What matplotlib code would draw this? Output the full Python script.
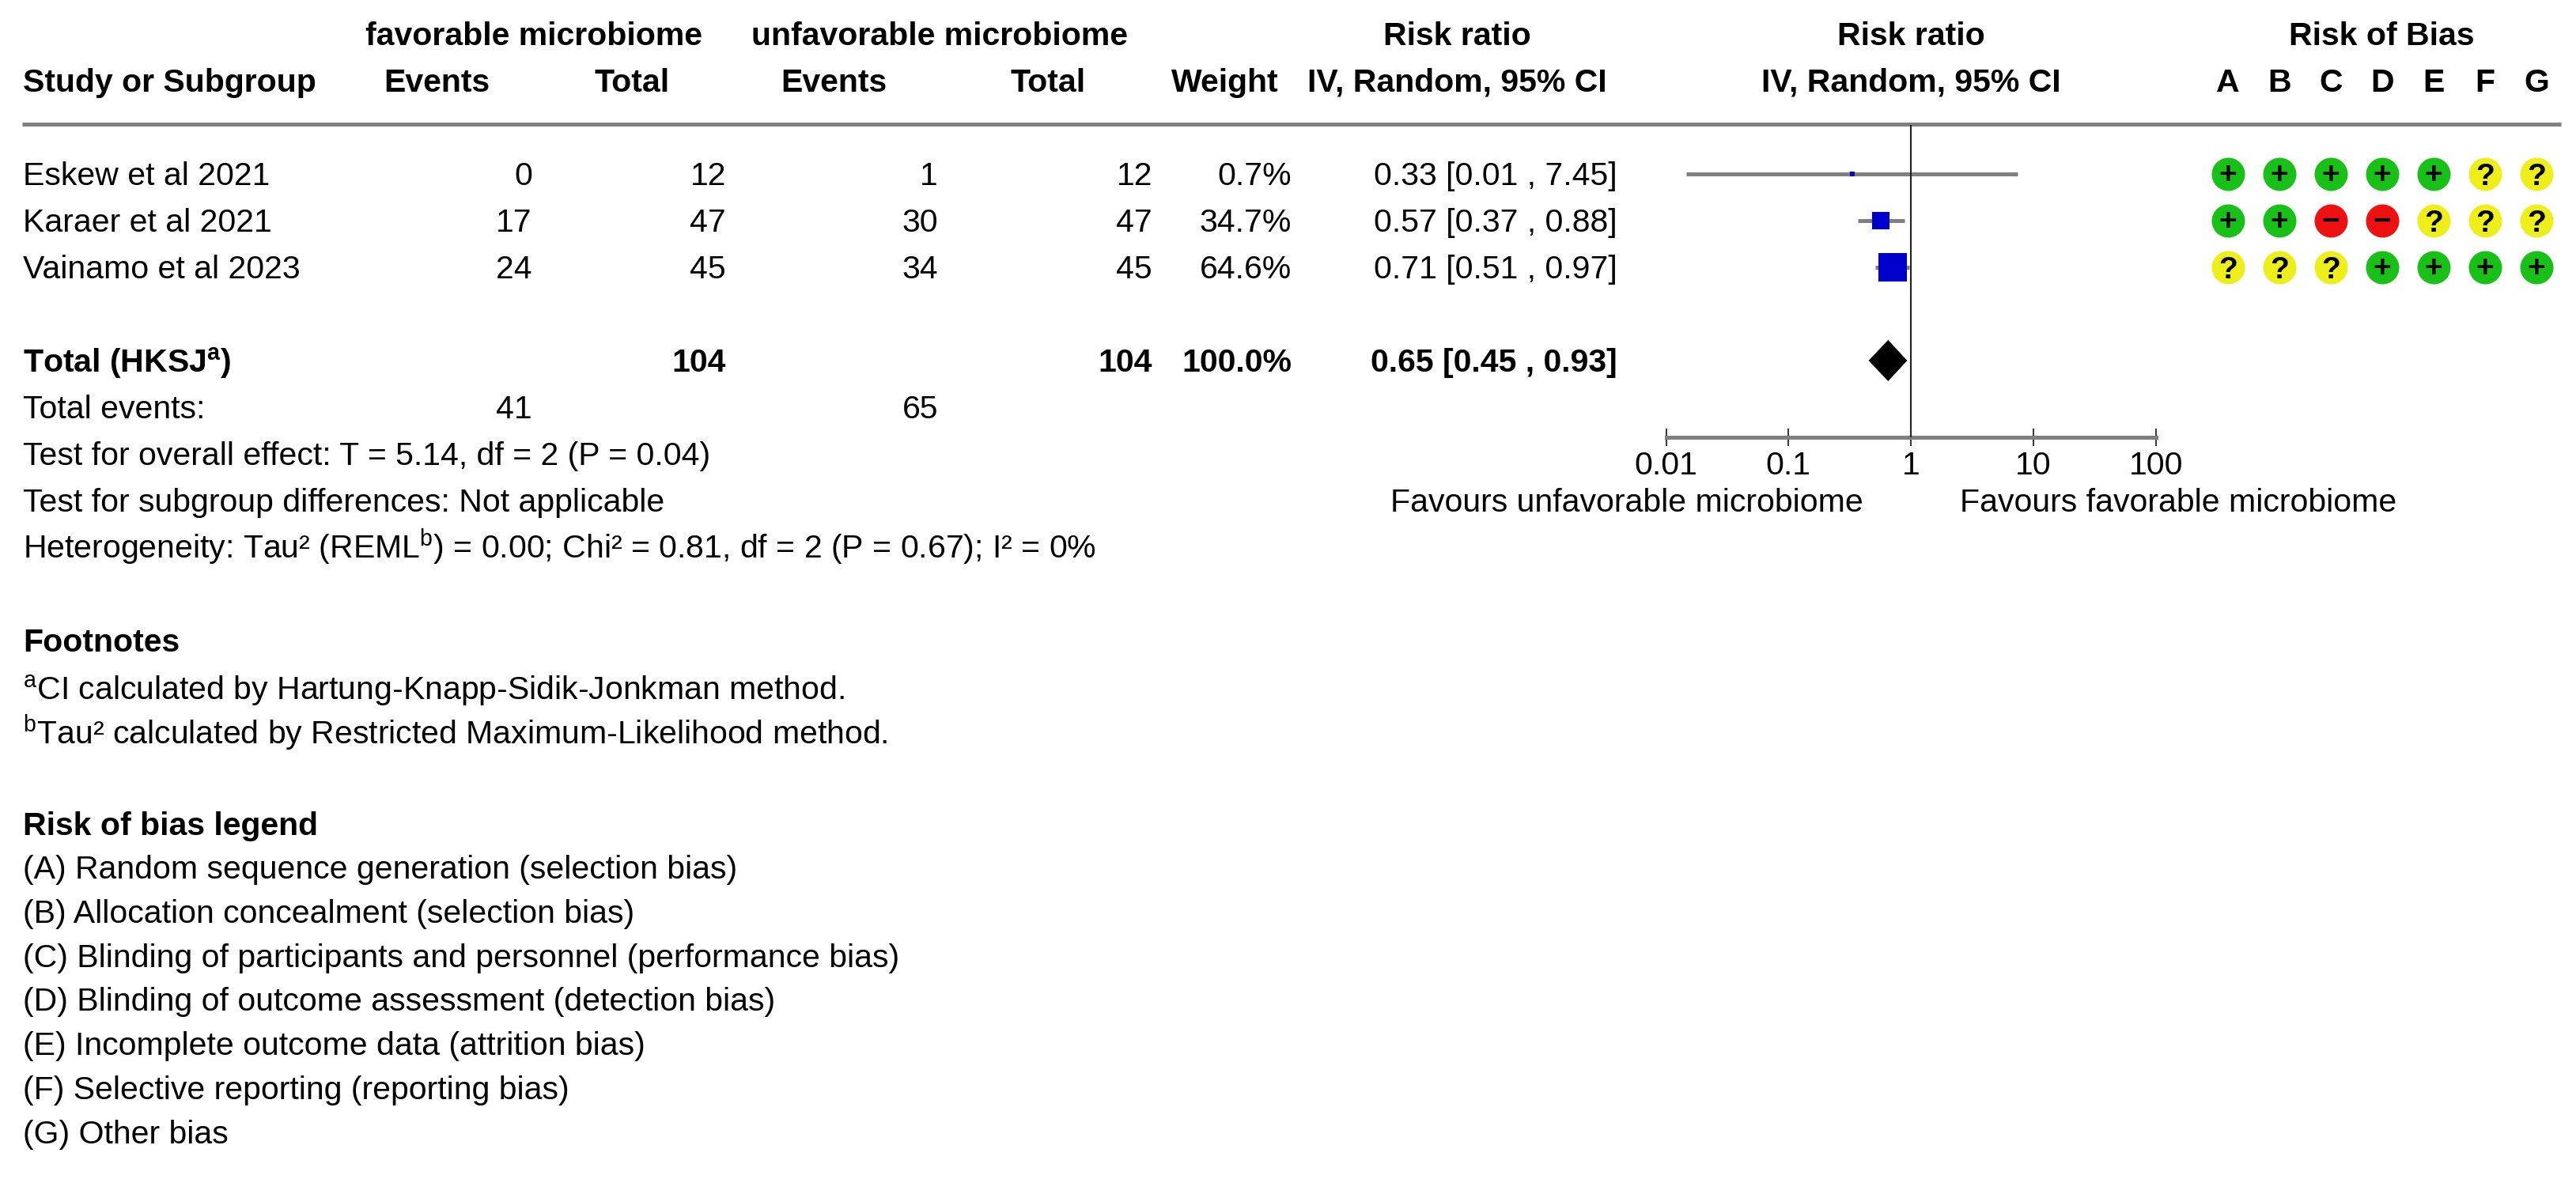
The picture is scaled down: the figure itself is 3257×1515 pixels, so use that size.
import numpy as np
import matplotlib
matplotlib.use('Agg')
import matplotlib.pyplot as plt

plt.rcParams['font.family'] = ['Liberation Sans', 'DejaVu Sans']
plt.rcParams['mathtext.fontset'] = 'custom'
plt.rcParams['mathtext.rm'] = 'Liberation Sans'
plt.rcParams['mathtext.bf'] = 'Liberation Sans:bold'

# data
studies = ['Eskew et al 2021', 'Karaer et al 2021', 'Vainamo et al 2023']
fav_events = [0, 17, 24]
fav_total = [12, 47, 45]
unfav_events = [1, 30, 34]
unfav_total = [12, 47, 45]
weights = [0.7, 34.7, 64.6]
rr = [0.33, 0.57, 0.71]
ci_low = [0.0146, 0.37, 0.51]
ci_high = [7.45, 0.88, 0.97]
pooled = [0.65, 0.45, 0.93]
tick_values = [0.01, 0.1, 1, 10, 100]
tick_labels = ['0.01', '0.1', '1', '10', '100']
rob_domains = ['A', 'B', 'C', 'D', 'E', 'F', 'G']
rob = [['+', '+', '+', '+', '+', '?', '?'],
       ['+', '+', '-', '-', '?', '?', '?'],
       ['?', '?', '?', '+', '+', '+', '+']]
stats_lines = ['Test for overall effect: T = 5.14, df = 2 (P = 0.04)',
               'Test for subgroup differences: Not applicable',
               r'Heterogeneity: Tau² (REML$^{\mathregular{b}}$) = 0.00; Chi² = 0.81, df = 2 (P = 0.67); I² = 0%']
footnotes = [r'$^{\mathregular{a}}$CI calculated by Hartung-Knapp-Sidik-Jonkman method.',
             r'$^{\mathregular{b}}$Tau² calculated by Restricted Maximum-Likelihood method.']
rob_legend = ['(A) Random sequence generation (selection bias)',
              '(B) Allocation concealment (selection bias)',
              '(C) Blinding of participants and personnel (performance bias)',
              '(D) Blinding of outcome assessment (detection bias)',
              '(E) Incomplete outcome data (attrition bias)',
              '(F) Selective reporting (reporting bias)',
              '(G) Other bias']

W, H = 3257, 1515
FS = 29.5
fig = plt.figure(figsize=(W / 100, H / 100), dpi=100)
ax = fig.add_axes([0, 0, 1, 1])
ax.set_xlim(0, W)
ax.set_ylim(H, 0)
ax.axis('off')


def row_y(i):
    return 220 + 59 * i


def txt(x, y, s, ha='left', bold=False, target=None):
    (target or ax).text(x, y + 14, s, ha=ha, va='baseline', fontsize=FS,
                        fontweight='bold' if bold else 'normal', color='black')


# headers
txt(675, 43, 'favorable microbiome', 'center', True)
txt(1188, 43, 'unfavorable microbiome', 'center', True)
txt(29, 102, 'Study or Subgroup', bold=True)
txt(552, 102, 'Events', 'center', True)
txt(799, 102, 'Total', 'center', True)
txt(1054, 102, 'Events', 'center', True)
txt(1325, 102, 'Total', 'center', True)
txt(1617, 102, 'Weight', 'right', True)
txt(1842, 43, 'Risk ratio', 'center', True)
txt(1842, 102, 'IV, Random, 95% CI', 'center', True)
ax.plot([28, 3238], [157, 157], color='#808080', lw=3.6, solid_capstyle='butt')

# study rows
for i, name in enumerate(studies):
    y = row_y(i)
    txt(29, y, name)
    txt(673, y, str(fav_events[i]), 'right')
    txt(918, y, str(fav_total[i]), 'right')
    txt(1186, y, str(unfav_events[i]), 'right')
    txt(1457, y, str(unfav_total[i]), 'right')
    txt(1633, y, f'{weights[i]:.1f}%', 'right')
    txt(2045, y, f'{rr[i]:.2f} [{ci_low[i]:.2f} , {ci_high[i]:.2f}]', 'right')

# total rows
y = row_y(4)
txt(29, y, r'Total (HKSJ$^{\mathregular{a}}$)', bold=True)
txt(918, y, str(sum(fav_total)), 'right', True)
txt(1457, y, str(sum(unfav_total)), 'right', True)
txt(1633, y, f'{sum(weights):.1f}%', 'right', True)
txt(2045, y, f'{pooled[0]:.2f} [{pooled[1]:.2f} , {pooled[2]:.2f}]', 'right', True)
y = row_y(5)
txt(29, y, 'Total events:')
txt(673, y, str(sum(fav_events)), 'right')
txt(1186, y, str(sum(unfav_events)), 'right')
for k, line in enumerate(stats_lines):
    txt(29, row_y(6 + k), line)

txt(29, 810, 'Footnotes', bold=True)
txt(29, 870, footnotes[0])
txt(29, 927, footnotes[1])
txt(29, 1042, 'Risk of bias legend', bold=True)
for k, line in enumerate(rob_legend):
    txt(29, 1097 + 55.8 * k, line)

# forest plot panel (log scale)
top, bottom = 158, 553
axf = fig.add_axes([2106.5 / W, 1 - bottom / H, 619.5 / W, (bottom - top) / H])
axf.set_xscale('log')
axf.set_xlim(0.01, 100)
axf.set_ylim(bottom, top)
axf.patch.set_visible(False)
for s in ['top', 'left', 'right']:
    axf.spines[s].set_visible(False)
axf.spines['bottom'].set_color('#808080')
axf.spines['bottom'].set_linewidth(3.6)
axf.set_yticks([])
axf.set_xticks(tick_values)
axf.set_xticklabels(tick_labels)
axf.xaxis.set_minor_locator(matplotlib.ticker.NullLocator())
axf.tick_params(axis='x', direction='inout', length=16, width=1.1, color='black',
                labelsize=FS, pad=4)
axf.axvline(1, color='#222222', lw=1.5, zorder=4)
for i in range(len(studies)):
    y = row_y(i)
    axf.plot([ci_low[i], ci_high[i]], [y, y], color='#808080', lw=3.6,
             solid_capstyle='butt', zorder=2)
    side = (5.8 + 0.468 * weights[i]) * 0.72
    axf.plot(rr[i], y, marker='s', ms=side, color='#0000cc', mec='#0000cc', mew=0, zorder=3)
y = row_y(4)
axf.fill([pooled[1], pooled[0], pooled[2], pooled[0]], [y, y - 26, y, y + 26],
         color='black', lw=0, zorder=3)
txt(1, 43, 'Risk ratio', 'center', True, axf)
txt(1, 102, 'IV, Random, 95% CI', 'center', True, axf)
txt(2356, 633, 'Favours unfavorable microbiome', 'right')
txt(2478, 633, 'Favours favorable microbiome', 'left')

# risk of bias panel
axr = fig.add_axes([2784.5 / W, 1 - 400 / H, 455 / W, (400 - top) / H])
axr.set_xlim(-0.5, 6.5)
axr.set_ylim(400, top)
axr.axis('off')
rob_colors = {'+': '#18c018', '-': '#ee1111', '?': '#eeee1a'}
rob_symbols = {'+': '+', '-': '\u2212', '?': '?'}
rob_shift = {'+': 12, '-': 12, '?': 14}
for j, row in enumerate(rob):
    for i, v in enumerate(row):
        axr.scatter(i, row_y(j), s=(42 * 0.72) ** 2, color=rob_colors[v], lw=0, zorder=2)
        axr.text(i, row_y(j) + rob_shift[v], rob_symbols[v], ha='center', va='baseline',
                 fontsize=28, fontweight='bold', color='black', zorder=3)
for i, d in enumerate(rob_domains):
    axr.text(i, 116, d, ha='center', va='baseline', fontsize=FS, fontweight='bold')
txt(3011, 43, 'Risk of Bias', 'center', True)

fig.savefig('out.png', dpi=100, facecolor='white')
